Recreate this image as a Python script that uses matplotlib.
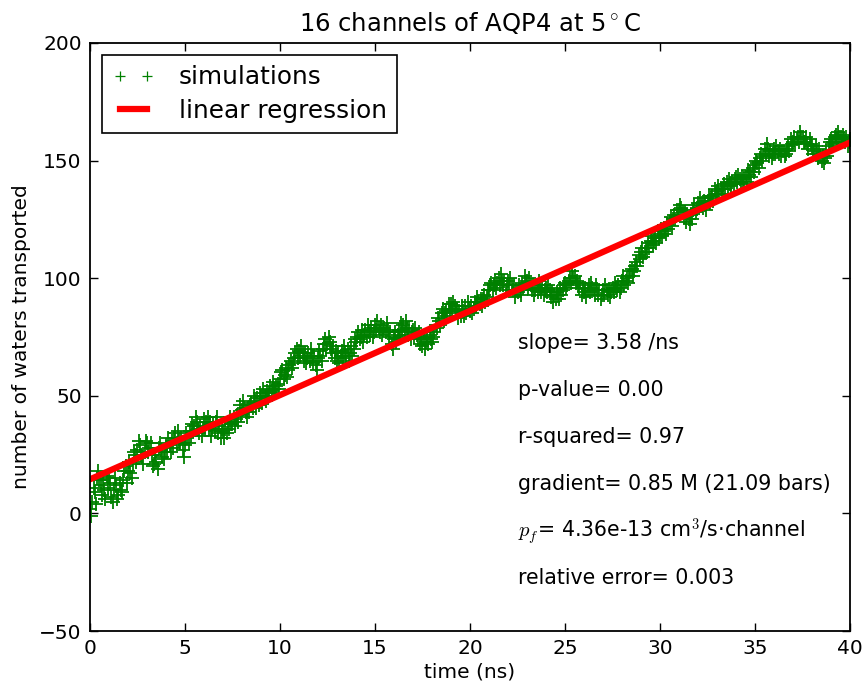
import matplotlib
matplotlib.use("Agg")
import matplotlib.pyplot as plt
import numpy as np

# ── data (one value every 0.0625 ns) ────────────────────────────────────────
waters = [
    2, -1, 5, 11, 9, 4, 15, 18, 14, 12, 8, 14, 10, 6, 16, 11,
    15, 13, 7, 5, 10, 15, 12, 6, 8, 13, 10, 9, 14, 18, 20, 13,
    18, 22, 17, 15, 21, 26, 25, 22, 27, 31, 29, 25, 24, 21, 26, 31,
    30, 26, 28, 30, 25, 20, 21, 25, 22, 19, 28, 30, 27, 24, 23, 26,
    29, 26, 32, 29, 26, 31, 28, 32, 34, 30, 35, 31, 30, 32, 27, 24,
    29, 34, 32, 30, 35, 33, 38, 35, 37, 41, 39, 36, 34, 37, 33, 36,
    40, 36, 39, 41, 36, 39, 33, 36, 38, 35, 39, 41, 34, 37, 32, 36,
    35, 32, 36, 34, 39, 36, 41, 38, 38, 41, 37, 40, 42, 39, 46, 42,
    44, 48, 45, 43, 41, 45, 43, 46, 47, 45, 50, 48, 45, 49, 46, 51,
    50, 47, 53, 50, 48, 52, 49, 51, 54, 52, 56, 53, 51, 54, 55, 53,
    57, 60, 61, 57, 59, 62, 58, 61, 63, 65, 62, 64, 66, 68, 70, 66,
    69, 67, 71, 68, 65, 68, 64, 66, 68, 65, 70, 67, 64, 67, 63, 61,
    66, 69, 67, 65, 70, 72, 74, 70, 72, 75, 73, 70, 68, 71, 66, 69,
    65, 68, 64, 67, 69, 66, 71, 68, 67, 70, 65, 68, 71, 67, 70, 74,
    73, 75, 77, 74, 75, 78, 73, 76, 78, 75, 80, 77, 76, 79, 75, 77,
    80, 78, 82, 79, 77, 80, 76, 78, 79, 77, 81, 78, 75, 77, 72, 70,
    74, 77, 73, 76, 78, 75, 81, 78, 80, 77, 82, 79, 76, 79, 74, 77,
    78, 75, 79, 76, 74, 77, 72, 75, 71, 74, 70, 73, 75, 72, 76, 74,
    73, 75, 77, 80, 79, 83, 82, 80, 85, 87, 82, 85, 86, 84, 89, 86,
    89, 87, 90, 88, 85, 87, 83, 86, 84, 88, 86, 84, 88, 85, 90, 87,
    86, 88, 85, 87, 90, 88, 92, 90, 89, 91, 88, 91, 93, 90, 92, 95,
    95, 97, 98, 95, 97, 99, 96, 98, 100, 97, 102, 99, 97, 99, 95, 97,
    99, 97, 100, 97, 95, 97, 92, 95, 94, 97, 95, 93, 98, 96, 101, 98,
    99, 96, 100, 97, 95, 97, 93, 95, 97, 94, 99, 96, 94, 96, 93, 95,
    96, 94, 97, 95, 92, 94, 90, 93, 91, 94, 93, 91, 96, 93, 95, 97,
    98, 96, 97, 99, 100, 98, 103, 100, 101, 98, 99, 97, 96, 98, 93, 96,
    94, 96, 92, 95, 97, 94, 98, 96, 95, 93, 97, 95, 93, 95, 91, 93,
    95, 93, 97, 95, 93, 95, 92, 94, 96, 94, 98, 96, 95, 97, 94, 96,
    99, 101, 97, 99, 100, 98, 101, 103, 104, 101, 103, 105, 107, 105, 110, 108,
    111, 113, 109, 111, 113, 111, 115, 113, 116, 118, 114, 116, 117, 115, 120, 117,
    119, 121, 118, 120, 121, 119, 123, 121, 124, 126, 122, 125, 127, 125, 129, 127,
    129, 131, 130, 128, 126, 128, 124, 127, 125, 123, 127, 125, 129, 131, 128, 130,
    132, 130, 134, 132, 130, 133, 131, 129, 133, 135, 132, 134, 135, 133, 138, 136,
    137, 139, 136, 138, 138, 136, 140, 138, 141, 139, 142, 140, 139, 141, 140, 142,
    143, 141, 144, 142, 141, 143, 140, 142, 143, 141, 146, 144, 145, 143, 147, 145,
    148, 150, 149, 147, 151, 153, 150, 152, 155, 153, 157, 155, 152, 154, 151, 153,
    155, 153, 156, 154, 153, 155, 152, 154, 154, 152, 153, 155, 156, 154, 159, 157,
    158, 160, 157, 159, 160, 158, 162, 160, 160, 158, 158, 160, 157, 155, 159, 157,
    156, 153, 154, 156, 153, 151, 155, 152, 150, 152, 149, 151, 154, 152, 156, 158,
    159, 157, 158, 160, 161, 159, 162, 160, 160, 158, 161, 159, 158, 160, 156, 158,
    159,
]
time_ns = np.linspace(0, 40, len(waters))

slope = 3.58       # waters / ns
intercept = 14.5   # waters

stats_lines = [
    "slope= 3.58 /ns",
    "p-value= 0.00",
    "r-squared= 0.97",
    "gradient= 0.85 M (21.09 bars)",
    r"$p_f$= 4.36e-13 cm$^3$/s·channel",
    "relative error= 0.003",
]
stats_y = [70, 50, 30, 10, -10, -30]
stats_x = 22.5

# ── figure ────────────────────────────────────────────────────────────────────
plt.rcParams["font.family"] = ["DejaVu Sans"]
plt.rcParams["mathtext.fontset"] = "cm"

fig = plt.figure(figsize=(8.67, 6.88), dpi=100)
ax = fig.add_axes([0.1038, 0.0828, 0.8766, 0.8547])

ax.plot(time_ns, waters, "+", color="#008000", markersize=10.5, mew=1.3,
        label="simulations")
fit_x = np.array([0, 40])
ax.plot(fit_x, intercept + slope * fit_x, "-", color="red", lw=4.5,
        label="linear regression")

for y, s in zip(stats_y, stats_lines):
    ax.text(stats_x, y, s, fontsize=14.8)

ax.set_xlim(0, 40)
ax.set_ylim(-50, 200)
ax.set_xticks(np.arange(0, 41, 5))
ax.set_yticks(np.arange(-50, 201, 50))
ax.tick_params(direction="in", length=6, width=1, labelsize=14.5,
               top=True, right=True, pad=6)
for sp in ax.spines.values():
    sp.set_linewidth(1.3)

ax.set_xlabel("time (ns)", fontsize=14.5, labelpad=3)
ax.set_ylabel("number of waters transported", fontsize=14.5, labelpad=6)
ax.set_title(r"16 channels of AQP4 at 5$^\circ$C", fontsize=17.5, pad=9)

leg = ax.legend(loc="upper left", numpoints=2, fontsize=17.8, fancybox=False,
                framealpha=1, edgecolor="black", borderaxespad=0.5,
                handlelength=1.7, handletextpad=1.0, labelspacing=0.4,
                markerscale=0.65)
leg.get_frame().set_linewidth(1.2)
leg.legend_handles[0].set_markeredgewidth(0.9)

fig.savefig("out.png", dpi=100)
